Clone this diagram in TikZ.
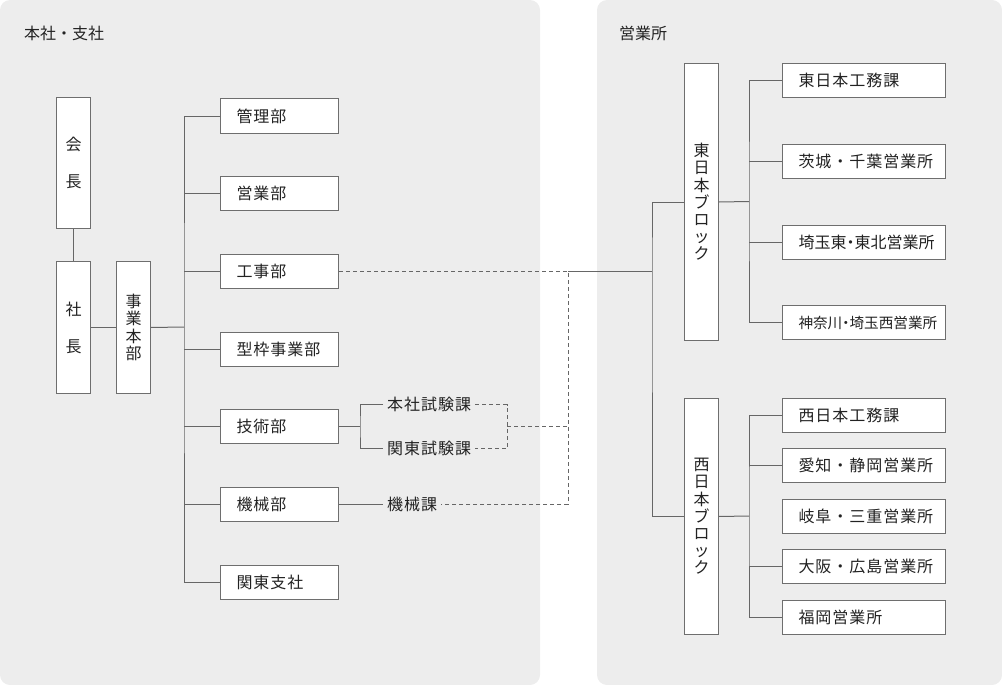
\documentclass[tikz,border=0pt]{standalone}
\usepackage{fontspec}
\setmainfont{Noto Sans CJK JP}
\newfontfamily\jpfont[LetterSpace=6]{Noto Sans CJK JP}
\newfontfamily\jppalt[RawFeature=+palt]{Noto Sans CJK JP}
\definecolor{panelgray}{HTML}{EDEDED}
\definecolor{linegray}{HTML}{666666}
\definecolor{boxline}{HTML}{6E6E6E}
\definecolor{txt}{HTML}{222222}
\begin{document}
\begin{tikzpicture}[x=1pt,y=-1pt,
  panel/.style={fill=panelgray, rounded corners=10pt},
  conn/.style={draw=linegray, line width=1pt},
  dsh/.style={draw=linegray, line width=1pt, dash pattern=on 4pt off 3pt},
  hbox/.style={draw=boxline, fill=white, line width=1pt, anchor=west,
    minimum height=34pt, inner xsep=16pt, inner ysep=0pt, align=left,
    text=txt, font=\jpfont\fontsize{16}{18}\selectfont},
  lbox/.style={hbox, text width=86pt},
  rbox/.style={hbox, text width=131pt},
  vbox/.style={draw=boxline, fill=white, line width=1pt, anchor=north west,
    minimum width=34pt, inner sep=0pt, align=center, text=txt},
  lbl/.style={anchor=west, inner xsep=4pt, inner ysep=2pt, text=txt,
    font=\jpfont\fontsize{16}{18}\selectfont},
  ttl/.style={anchor=west, inner sep=0pt, text=txt,
    font=\fontsize{16}{18}\selectfont}
]
\useasboundingbox (0,0) rectangle (1002,685);
\path[panel] (0,0) rectangle (540,685);
\path[panel] (597,0) rectangle (1002,685);

\node[ttl] (t1) at (24,33.5) {本社・支社};
\node[ttl] (t2) at (619,33.5) {営業所};

% left side
\node[vbox, minimum height=131pt, font=\jpfont\fontsize{16}{37}\selectfont] (kaicho) at (56,97) {会\\長};
\node[vbox, minimum height=132pt, font=\jpfont\fontsize{16}{37}\selectfont] (shacho) at (56,261) {社\\長};
\node[vbox, minimum height=132pt, font=\jpfont\fontsize{16}{17.5}\selectfont] (jigyo) at (116,261) {事\\業\\本\\部};

\node[lbox] (kanri)   at (220,116.0) {管理部};
\node[lbox] (eigyo)   at (220,193.7) {営業部};
\node[lbox] (kouji)   at (220,271.4) {工事部};
\node[lbox] (katawaku) at (220,349.1) {型枠事業部};
\node[lbox] (gijutsu) at (220,426.8) {技術部};
\node[lbox] (kikai)   at (220,504.5) {機械部};
\node[lbox] (kantou)  at (220,582.2) {関東支社};

\node[lbl] (honshaka) at (383,404.8) {本社試験課};
\node[lbl] (kantouka) at (383,448.8) {関東試験課};
\node[lbl] (kikaika)  at (383,504.5) {機械課};

\draw[conn] (kaicho.south) -- (shacho.north);
\draw[conn] (shacho.east) -- (jigyo.west);
\coordinate (bus) at (184,327);
\draw[conn] (kanri.west) -| (bus) |- (kantou.west);
\draw[conn] (jigyo.east) -- (bus);
\draw[conn] (eigyo.west) -- (eigyo.west -| bus);
\draw[conn] (kouji.west) -- (kouji.west -| bus);
\draw[conn] (katawaku.west) -- (katawaku.west -| bus);
\draw[conn] (gijutsu.west) -- (gijutsu.west -| bus);
\draw[conn] (kikai.west) -- (kikai.west -| bus);

\path (gijutsu.east) ++(21,0) coordinate (jg);
\draw[conn] (gijutsu.east) -- (jg);
\draw[conn] (honshaka.west) -| (jg) |- (kantouka.west);
\draw[conn] (kikai.east) -- (kikaika.west);

% right side
\node[vbox, minimum height=277pt, font=\jpfont\fontsize{16}{17.2}\selectfont] (eastblk) at (684,63) {東\\日\\本\\ブ\\ロ\\ッ\\ク};
\node[vbox, minimum height=236pt, font=\jpfont\fontsize{16}{17.2}\selectfont] (westblk) at (684,398) {西\\日\\本\\ブ\\ロ\\ッ\\ク};

\node[rbox] (e1) at (782,80.5)  {東日本工務課};
\node[rbox] (e2) at (782,161.3) {茨城・千葉営業所};
\node[rbox, font=\jppalt\fontsize{16}{18}\selectfont] (e3) at (782,242.1) {埼玉東・東北営業所};
\node[rbox, font=\jppalt\fontsize{14.6}{18}\selectfont] (e4) at (782,322.9) {神奈川・埼玉西営業所};

\node[rbox] (w1) at (782,415.0) {西日本工務課};
\node[rbox] (w2) at (782,465.5) {愛知・静岡営業所};
\node[rbox] (w3) at (782,516.0) {岐阜・三重営業所};
\node[rbox] (w4) at (782,566.5) {大阪・広島営業所};
\node[rbox] (w5) at (782,617.0) {福岡営業所};

\coordinate (ej) at (749,201.5);
\coordinate (wj) at (749,516);
\draw[conn] (eastblk.east) -- (ej);
\draw[conn] (e1.west) -| (ej) |- (e4.west);
\draw[conn] (e2.west) -- (e2.west -| ej);
\draw[conn] (e3.west) -- (e3.west -| ej);
\draw[conn] (westblk.east) -- (wj);
\draw[conn] (w1.west) -| (wj) |- (w5.west);
\draw[conn] (w2.west) -- (w2.west -| wj);
\draw[conn] (w4.west) -- (w4.west -| wj);

\coordinate (jb) at (652,271.4);
\coordinate (jd) at (568,271.4);
\draw[conn] (eastblk.west) -| (jb) |- (westblk.west);
\draw[conn] (jd) -- (jb);

% dashed links
\coordinate (jt) at (507,426.8);
\draw[dsh] (kouji.east) -- (jd) -- (kikaika.east -| jd) -- (kikaika.east);
\draw[dsh] (honshaka.east) -| (jt) |- (kantouka.east);
\draw[dsh] (jt) -- (jt -| jd);
\end{tikzpicture}
\end{document}
